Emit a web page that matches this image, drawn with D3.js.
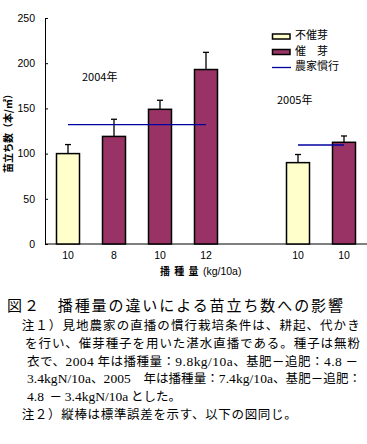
<!DOCTYPE html>
<html><head><meta charset="utf-8">
<script src="https://cdn.jsdelivr.net/npm/d3@7"></script>
<style>body{margin:0;background:#fff}svg{display:block}</style>
</head><body>
<script>
// ---- data ----
const tickLabels = ["10","8","10","12","","10","10"];
const treatments = ["不催芽","催芽","催芽","催芽",null,"不催芽","催芽"];
const values = [100,119,149,193,null,90,112.5];
const stdErrors = [10,19,10,19,null,9,7];
const years = ["2004年","2005年"];
const practiceFrom = [0,5];
const practiceTo = [3,6];
const practiceValues = [132,109.5];
const legendLabels = ["不催芽","催　芽","農家慣行"];
const yTicks = [0,50,100,150,200,250];

const W=367,H=444;
const svg=d3.select("body").append("svg").attr("width",W).attr("height",H);
const jp='"Noto Sans CJK JP", sans-serif';
const lat='"Liberation Sans", Arial, sans-serif';
const colors={"不催芽":"#ffffcc","催芽":"#993366"};

const x=d3.scaleBand().domain(d3.range(tickLabels.length)).range([45,367]).paddingInner(0.5).paddingOuter(0.25);
const y=d3.scaleLinear().domain([0,250]).range([244,18]);

// y axis
const yAxis=svg.append("g").attr("transform","translate(45,0)")
  .call(d3.axisRight(y).tickValues(yTicks).tickSize(3).tickFormat(d3.format("d")));
yAxis.select(".domain").attr("stroke","#000");
yAxis.selectAll("text").attr("x",-10).attr("text-anchor","end").attr("font-family",lat).attr("font-size",10.5).attr("fill","#000");

// x axis
const xAxis=svg.append("g").attr("transform","translate(0,244)")
  .call(d3.axisBottom(x).tickSize(0).tickFormat(i=>tickLabels[i]));
xAxis.select(".domain").attr("stroke","#000").attr("d","M45,0H367");
xAxis.selectAll("text").attr("y",8).attr("font-family",lat).attr("font-size",10.5).attr("fill","#000");

// bars
const idx=d3.range(values.length).filter(i=>values[i]!=null);
svg.append("g").selectAll("rect").data(idx).join("rect")
  .attr("x",i=>x(i)).attr("width",x.bandwidth())
  .attr("y",i=>y(values[i])).attr("height",i=>y(0)-y(values[i]))
  .attr("fill",i=>colors[treatments[i]]).attr("stroke","#000").attr("stroke-width",1.5);

// error bars
const eb=svg.append("g").attr("stroke","#000").attr("stroke-width",1.3);
idx.forEach(i=>{
  const cx=x(i)+x.bandwidth()/2;
  eb.append("line").attr("x1",cx).attr("x2",cx).attr("y1",y(values[i])).attr("y2",y(values[i]+stdErrors[i]));
  eb.append("line").attr("x1",cx-3).attr("x2",cx+3).attr("y1",y(values[i]+stdErrors[i])).attr("y2",y(values[i]+stdErrors[i]));
});

// farmer practice lines
practiceValues.forEach((v,k)=>{
  svg.append("line").attr("x1",x(practiceFrom[k])+x.bandwidth()/2).attr("x2",x(practiceTo[k])+x.bandwidth()/2)
    .attr("y1",y(v)).attr("y2",y(v)).attr("stroke","#0000a0").attr("stroke-width",1.3);
});

// year labels
svg.append("text").attr("x",82).attr("y",80.5).attr("font-family",jp).attr("font-size",11).text(years[0]);
svg.append("text").attr("x",277).attr("y",104).attr("font-family",jp).attr("font-size",11).text(years[1]);

// legend
const lg=svg.append("g");
[["不催芽",34],["催芽",49.5]].forEach(([t,yy])=>{
  lg.append("rect").attr("x",272.5).attr("y",yy).attr("width",17.5).attr("height",5).attr("fill",colors[t]).attr("stroke","#000").attr("stroke-width",1.5);
});
lg.append("line").attr("x1",272).attr("x2",291).attr("y1",67.5).attr("y2",67.5).attr("stroke","#0000a0").attr("stroke-width",1.3);
legendLabels.forEach((t,k)=>{
  lg.append("text").attr("x",295).attr("y",[39,55,69.5][k]).attr("font-family",jp).attr("font-size",11).text(t);
});

// y axis title
svg.append("text").attr("transform","translate(11.5,131) rotate(-90)").attr("text-anchor","middle")
  .attr("font-family",jp).attr("font-size",10).attr("font-weight","bold").text("苗立ち数（本/㎡）");

// x axis title
const xt=svg.append("text").attr("x",160).attr("y",275).attr("font-family",jp).attr("font-size",10);
xt.append("tspan").attr("font-weight","bold").attr("letter-spacing",4.3).text("播種量");
xt.append("tspan").attr("font-family",lat).attr("font-size",10.5).text("(kg/10a)");

// caption and notes
svg.append("text").attr("x",7).attr("y",310.5).attr("font-family",jp).attr("font-size",15)
  .attr("textLength",336).attr("lengthAdjust","spacing").text("図２　播種量の違いによる苗立ち数への影響");

const notes=[
  {x:21.7,y:329.5,len:338,parts:[["注１）見地農家の直播の慣行栽培条件は、耕起、代かき",0]]},
  {x:25,y:347.5,len:335,parts:[["を行い、催芽種子を用いた湛水直播である。種子は無粉",0]]},
  {x:27,y:365.5,len:331,parts:[["衣で、",0],["2004",1],[" 年は播種量：",0],["9.8kg/10a",1],["、基肥－追肥：",0],["4.8",1],[" －",0]]},
  {x:27,y:383.2,len:334,parts:[["3.4kgN/10a",1],["、",0],["2005",1],["　年は播種量：",0],["7.4kg/10a",1],["、基肥－追肥：",0]]},
  {x:27,y:401,len:null,parts:[["4.8",1],["  － ",0],["3.4kgN/10a",1],[" とした。",0]]},
  {x:21.7,y:418.5,len:275,parts:[["注２）縦棒は標準誤差を示す、以下の図同じ。",0]]}
];
notes.forEach(n=>{
  const t=svg.append("text").attr("x",n.x).attr("y",n.y).attr("font-family",jp).attr("font-size",12.5)
    .attr("xml:space","preserve");
  if(n.len) t.attr("textLength",n.len).attr("lengthAdjust","spacing");
  n.parts.forEach(([s,l])=>{
    const ts=t.append("tspan").text(s);
    if(l) ts.attr("font-family",'"Liberation Serif", serif').attr("font-size",13.5);
  });
});
</script>
</body></html>
